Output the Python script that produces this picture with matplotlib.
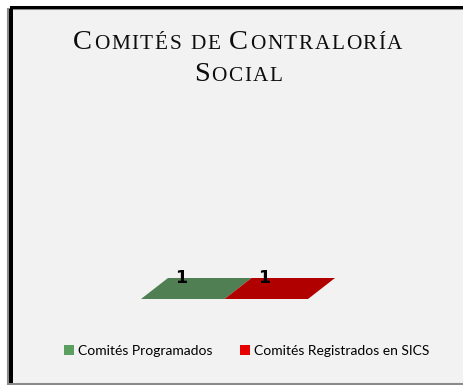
import matplotlib
matplotlib.use("Agg")
import matplotlib.pyplot as plt
from matplotlib.patches import Rectangle, Patch
from matplotlib.transforms import Affine2D

# ---- data ----
categories = ["Comités Programados", "Comités Registrados en SICS"]
values = [1, 1]
value_labels = ["1", "1"]
title_line1 = "Comités de Contraloría"
title_line2 = "Social"

bar_colors = ["#4f7f53", "#b00000"]
legend_colors = ["#5b9f61", "#e60000"]

W, H = 464, 385
DPI = 100
fig = plt.figure(figsize=(W / DPI, H / DPI), dpi=DPI)
fig.patch.set_facecolor("white")

def fx(px):
    return px / W

def fy(py):
    return (H - py) / H

# panel with frame
fig.patches.append(Rectangle((fx(8), fy(384)), fx(470) - fx(8), fy(9) - fy(384),
                             transform=fig.transFigure, facecolor="#f2f2f2",
                             edgecolor="#8a8a8a", linewidth=1.5, zorder=-3))
fig.patches.append(Rectangle((fx(10), fy(9)), fx(470) - fx(10), fy(6) - fy(9),
                             transform=fig.transFigure, facecolor="black",
                             edgecolor="none", zorder=-2))
fig.patches.append(Rectangle((fx(9), fy(383)), fx(13) - fx(9), fy(9) - fy(383),
                             transform=fig.transFigure, facecolor="black",
                             edgecolor="none", zorder=-2))

renderer = fig.canvas.get_renderer()

def small_caps_line(text, cx_px, base_px, big, small, track=2.0,
                    family="Liberation Serif"):
    objs = []
    widths = []
    for ch in text:
        if ch == " ":
            objs.append(None)
            widths.append(small * DPI / 72 * 0.28 + track)
            continue
        sz = big if ch.isupper() else small
        t = fig.text(0, fy(base_px), ch.upper(), fontsize=sz, family=family,
                     va="baseline", ha="left", color="#0d0d0d")
        bb = t.get_window_extent(renderer=renderer)
        objs.append(t)
        widths.append(bb.width + track)
    total = sum(widths) - track
    x = cx_px - total / 2
    for t, w in zip(objs, widths):
        if t is not None:
            t.set_x(fx(x))
        x += w
    return total

small_caps_line(title_line1, 238, 49, 20.5, 15.3, track=1.6)
small_caps_line(title_line2, 238, 81, 20.5, 15.3, track=1.6)

# ---- bars (flat 3D-looking parallelograms via skew) ----
ax = fig.add_axes([fx(141), fy(299), fx(308) - fx(141), fy(278) - fy(299)])
ax.set_xlim(-0.5, 1.5)
ax.set_ylim(0, 1)
ax.axis("off")
shear = 27.0 / 83.5
skew = Affine2D.from_values(1, 0, shear, 1, 0, 0)
x = list(range(len(categories)))
bars = ax.bar(x, values, width=1.0, color=bar_colors, linewidth=0,
              transform=skew + ax.transData)
for b in bars:
    b.set_clip_on(False)
for xi, v, lab in zip(x, values, value_labels):
    ax.text(xi - 0.02, v, lab, ha="center", va="center", fontsize=12.5,
            fontweight="bold", family="DejaVu Sans", color="black", clip_on=False)

# ---- legend ----
handles = [Patch(facecolor=c, edgecolor="none") for c in legend_colors]
fig.legend(handles, categories, loc="center", bbox_to_anchor=(fx(247), fy(351)),
           ncol=2, frameon=False, handlelength=0.7, handleheight=0.7,
           handletextpad=0.3, columnspacing=2.0,
           prop={"family": "Lato", "size": 10})

fig.savefig("out.png", dpi=DPI, facecolor=fig.get_facecolor())
